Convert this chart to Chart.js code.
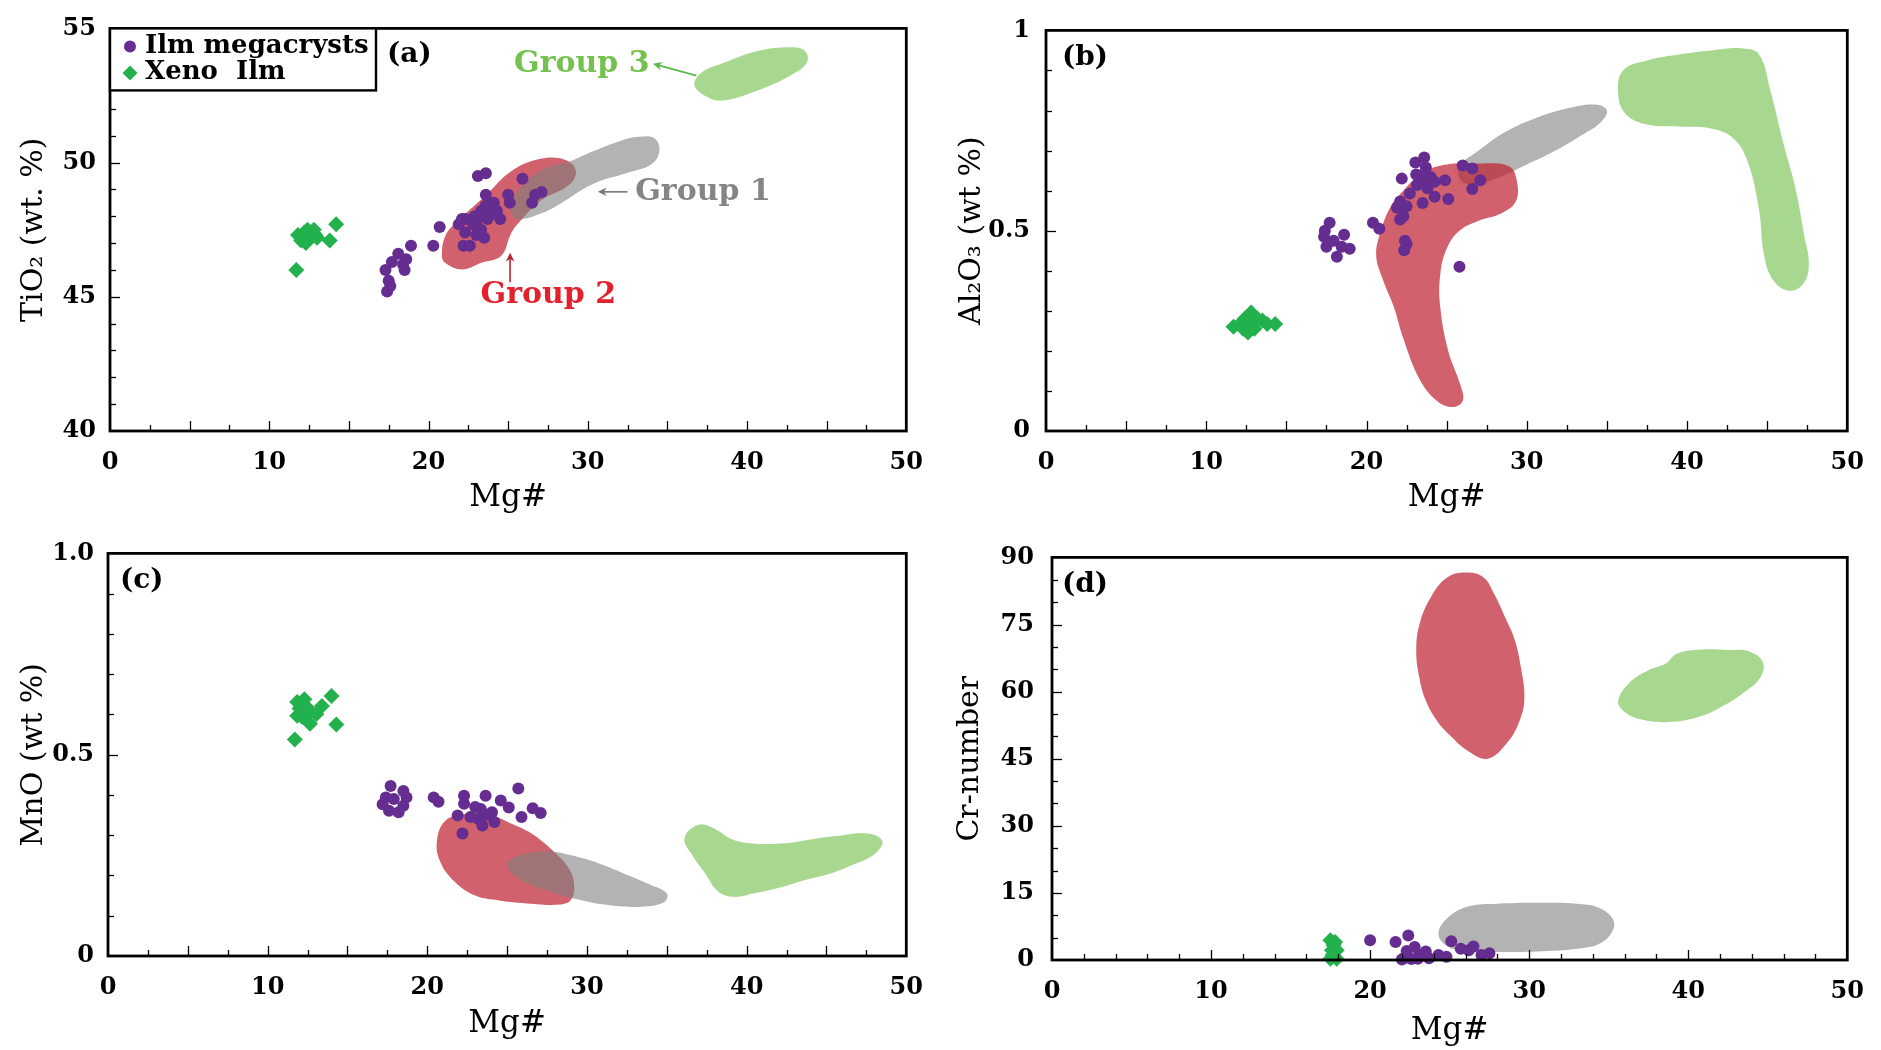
<!DOCTYPE html>
<html><head><meta charset="utf-8">
<script src="https://cdn.jsdelivr.net/npm/chart.js@4.4.1/dist/chart.umd.min.js"></script>
<style>
html,body{margin:0;padding:0;background:#fff;width:1881px;height:1050px;overflow:hidden}
canvas{position:absolute}
</style></head><body>
<canvas id="ca" width="940" height="525" style="left:0;top:0"></canvas>
<canvas id="cb" width="941" height="525" style="left:940px;top:0"></canvas>
<canvas id="cc" width="940" height="525" style="left:0;top:525px"></canvas>
<canvas id="cd" width="941" height="525" style="left:940px;top:525px"></canvas>
<script>
// ---------- tick labels ----------
const MG_TICKS = [0, 10, 20, 30, 40, 50];
const TIO2_TICKS = [40, 45, 50, 55];
const AL_TICKS = [0, 0.5, 1];
const AL_LABELS = ['0', '0.5', '1'];
const MNO_TICKS = [0, 0.5, 1.0];
const MNO_LABELS = ['0', '0.5', '1.0'];
const CR_TICKS = [0, 15, 30, 45, 60, 75, 90];

// ---------- (a) Mg# vs TiO2 ----------
const ilmA = [[17.4,45.2],[17.6,45.4],[17.3,46.0],[17.5,45.6],[17.7,46.3],[18.1,46.6],[18.6,46.4],[18.5,46.0],[18.4,46.2],[18.9,46.9],[20.3,46.9],[20.7,47.6],[22.1,47.9],[21.9,47.7],[22.3,47.4],[22.2,46.9],[22.6,46.9],[22.8,47.7],[23.1,47.9],[23.3,47.5],[23.5,47.2],[23.3,48.2],[23.6,48.4],[23.7,47.9],[24.1,48.5],[24.3,48.2],[24.5,47.9],[23.6,48.8],[23.1,49.5],[23.6,49.6],[25.0,48.8],[25.1,48.5],[25.9,49.4],[26.5,48.5],[26.7,48.8],[27.1,48.9],[24.0,48.1],[22.9,48.0],[22.3,47.9],[23.0,47.3]];
const xenoA = [[11.7,46.0],[11.8,47.3],[12.0,47.1],[12.2,47.4],[12.4,47.5],[12.6,47.2],[12.8,47.5],[12.9,47.3],[12.3,47.0],[13.0,47.2],[13.8,47.1],[14.2,47.7],[12.5,47.3]];
const grp1A = [[25.25,48.55],[26.0,49.2],[27.23,49.76],[28.9,50.05],[30.32,50.42],[32.0,50.8],[33.2,50.96],[34.2,50.9],[34.5,50.42],[34.0,49.94],[32.5,49.62],[30.32,49.2],[28.28,48.47],[27.04,48.1],[25.8,47.89],[25.25,48.03]];
const grp2A = [[20.84,46.52],[21.04,47.25],[21.66,47.74],[22.7,48.3],[23.7,48.84],[25.19,49.68],[27.04,50.14],[28.6,50.1],[29.25,49.7],[28.85,49.18],[27.04,48.58],[25.8,47.85],[25.19,47.37],[24.57,46.53],[23.33,46.27],[22.09,46.02],[21.04,46.27]];
const grp3A = [[36.7,52.87],[37.13,53.35],[38.55,53.72],[40.66,54.16],[42.7,54.3],[43.63,54.16],[43.75,53.72],[42.7,53.24],[40.66,52.69],[38.55,52.32],[37.56,52.43]];

// ---------- (b) Mg# vs Al2O3 ----------
const ilmB = [[17.7,0.52],[17.4,0.50],[17.35,0.485],[17.5,0.46],[18.15,0.435],[18.6,0.49],[18.95,0.455],[18.45,0.46],[17.95,0.475],[20.4,0.52],[20.8,0.505],[23.6,0.683],[23.05,0.67],[23.7,0.658],[23.4,0.638],[24.0,0.634],[24.9,0.626],[22.2,0.63],[22.7,0.593],[22.1,0.573],[21.9,0.557],[22.5,0.561],[22.3,0.536],[22.1,0.528],[23.5,0.569],[24.25,0.585],[25.1,0.579],[26.0,0.663],[26.6,0.655],[27.1,0.626],[26.6,0.604],[22.4,0.475],[22.35,0.451],[22.5,0.467],[25.8,0.41],[23.15,0.614],[23.8,0.606],[24.25,0.622],[23.1,0.64],[23.6,0.63]];
const xenoB = [[12.1,0.267],[12.4,0.28],[12.8,0.296],[13.0,0.255],[13.5,0.276],[14.3,0.267],[11.7,0.26],[12.6,0.246],[13.2,0.28],[13.8,0.267],[12.3,0.255],[12.9,0.27]];
const grp1B = [[25.8,0.66],[27.0,0.70],[28.6,0.745],[30.5,0.78],[32.5,0.805],[34.3,0.815],[35.0,0.80],[34.6,0.77],[33.5,0.74],[31.8,0.70],[30.0,0.665],[28.4,0.635],[26.8,0.615],[25.9,0.625]];
const grp2B = [[20.6,0.44],[20.9,0.50],[21.5,0.56],[22.3,0.60],[23.5,0.645],[25.0,0.665],[27.0,0.668],[28.9,0.66],[29.4,0.62],[29.3,0.572],[28.4,0.543],[27.0,0.525],[25.8,0.50],[25.0,0.455],[24.6,0.39],[24.6,0.31],[25.1,0.20],[25.9,0.11],[26.0,0.075],[25.4,0.06],[24.4,0.075],[23.3,0.13],[22.3,0.23],[21.7,0.31],[21.0,0.38]];
const grp3B = [[35.7,0.84],[36.0,0.90],[37.5,0.925],[39.5,0.94],[41.5,0.95],[43.5,0.955],[44.5,0.94],[45.2,0.85],[46.0,0.72],[46.8,0.60],[47.3,0.49],[47.6,0.42],[47.3,0.37],[46.4,0.35],[45.4,0.375],[44.8,0.44],[44.5,0.55],[43.8,0.67],[42.9,0.73],[41.5,0.755],[39.5,0.76],[37.5,0.765],[36.2,0.79]];

// ---------- (c) Mg# vs MnO ----------
const ilmC = [[17.7,0.422],[17.4,0.394],[17.2,0.377],[17.6,0.361],[18.2,0.357],[18.5,0.373],[18.7,0.394],[18.5,0.41],[17.9,0.39],[20.4,0.394],[20.7,0.383],[22.3,0.398],[22.3,0.378],[21.9,0.349],[22.2,0.304],[22.7,0.345],[23.35,0.365],[23.65,0.398],[23.45,0.324],[24.2,0.333],[24.05,0.357],[24.6,0.386],[25.1,0.369],[25.7,0.416],[25.9,0.345],[26.6,0.367],[27.1,0.355],[23.2,0.34],[23.0,0.37],[23.8,0.35]];
const xenoC = [[11.7,0.538],[14.0,0.646],[14.3,0.575],[11.85,0.631],[12.3,0.638],[12.65,0.609],[12.15,0.594],[12.65,0.577],[13.05,0.601],[13.4,0.621],[11.85,0.597],[12.4,0.62],[12.0,0.615]];
const grp1C = [[25.0,0.232],[26.0,0.252],[27.5,0.26],[29.0,0.25],[30.6,0.232],[32.3,0.205],[33.9,0.178],[35.0,0.155],[34.8,0.133],[33.2,0.122],[31.2,0.127],[29.4,0.141],[27.8,0.158],[26.3,0.18],[25.3,0.205]];
const grp2C = [[20.6,0.285],[21.1,0.335],[22.3,0.352],[23.8,0.352],[25.2,0.33],[26.5,0.305],[27.9,0.26],[28.9,0.215],[29.2,0.175],[29.0,0.14],[28.3,0.128],[26.5,0.13],[24.5,0.138],[23.0,0.15],[21.7,0.185],[20.8,0.235]];
const grp3C = [[36.1,0.292],[36.9,0.325],[37.8,0.32],[39.2,0.288],[40.6,0.279],[42.4,0.28],[44.1,0.29],[45.6,0.298],[47.6,0.304],[48.5,0.285],[48.0,0.253],[46.6,0.226],[45.4,0.207],[43.6,0.188],[42.1,0.17],[40.4,0.155],[39.2,0.147],[38.2,0.161],[37.4,0.205],[36.6,0.25]];

// ---------- (d) Mg# vs Cr-number ----------
const ilmD = [[20.0,4.4],[21.6,4.0],[22.4,5.5],[22.1,0.4],[22.8,2.9],[23.1,1.2],[23.5,1.9],[23.7,0.4],[24.3,1.1],[24.8,0.7],[25.1,4.2],[25.7,2.5],[26.5,3.0],[27.0,1.1],[27.5,1.5],[22.6,0.2],[22.0,0.1],[22.3,2.0],[23.0,0.3],[26.2,2.2]];
const xenoD = [[17.5,4.4],[17.8,4.0],[17.6,2.2],[17.9,2.2],[17.5,0.3],[17.9,0.3],[17.7,3.3],[17.65,1.1]];
const grp1D = [[24.3,6.0],[24.9,9.5],[26.2,12.0],[28.0,12.6],[31.0,12.8],[33.0,12.6],[34.3,11.8],[35.2,9.5],[35.3,7.0],[34.5,3.8],[33.0,2.5],[30.5,1.9],[28.0,1.8],[26.0,2.0],[24.8,3.2]];
const grp2D = [[26.0,86.6],[27.1,85.6],[27.8,81.8],[28.5,76.5],[29.1,71.5],[29.5,65],[29.7,58.5],[29.4,53.5],[28.6,48.5],[27.4,45.0],[26.2,46.6],[25.0,50.3],[24.2,53.5],[23.5,58],[23.1,63],[22.9,69],[23.1,75],[23.8,81.0],[24.8,85.4]];
const grp3D = [[35.6,58.0],[36.3,62.0],[37.5,64.8],[38.6,66.3],[39.3,68.5],[40.8,69.4],[42.5,69.3],[43.8,69.0],[44.7,66.5],[44.5,63.0],[43.5,59.8],[42.3,57.0],[40.8,54.5],[38.8,53.2],[37.0,53.8],[35.9,55.8]];

// ---------- styles ----------
const FONT = 'DejaVu Serif';
const PURPLE = '#662d91';
const GREEN_PT = '#22b14c';
const RED_F = 'rgba(190,30,45,0.7)';
const GRAY_F = 'rgba(128,128,128,0.6)';
const GREEN_F = 'rgba(110,190,70,0.6)';

function xy(arr) { return arr.map(p => ({x: p[0], y: p[1]})); }
function loop(arr) { const n = arr.length; return xy([arr[n - 1], ...arr, arr[0], arr[1]]); }
function blob(label, p, color, order) {
  return {type: 'line', label, data: loop(p), fill: 'shape', backgroundColor: color,
    borderColor: 'rgba(0,0,0,0)', borderWidth: 0, pointRadius: 0, pointHoverRadius: 0,
    tension: 0.4, order};
}
function marks(label, p, style, color, r, order) {
  return {type: 'scatter', label, data: xy(p), pointStyle: style, pointRadius: r,
    pointHoverRadius: r, backgroundColor: color, borderColor: color, borderWidth: 0, order, clip: false};
}

const frameTicks = {
  id: 'frameTicks',
  afterDatasetsDraw(chart, args, o) {
    const {ctx, chartArea: a} = chart;
    const x = chart.scales.x, y = chart.scales.y;
    ctx.save();
    ctx.strokeStyle = '#000';
    ctx.lineWidth = 1.3;
    const isMaj = (v, m) => Math.abs(v / m - Math.round(v / m)) < 1e-6;
    let n = Math.round((x.max - x.min) / o.xMinor);
    for (let i = 1; i < n; i++) {
      const v = x.min + i * o.xMinor, px = Math.round(x.getPixelForValue(v)) + 0.5;
      const L = isMaj(v, o.xMajor) ? 10 : 6;
      ctx.beginPath(); ctx.moveTo(px, a.bottom); ctx.lineTo(px, a.bottom - L); ctx.stroke();
    }
    n = Math.round((y.max - y.min) / o.yMinor);
    for (let i = 1; i < n; i++) {
      const v = y.min + i * o.yMinor, py = Math.round(y.getPixelForValue(v)) + 0.5;
      const L = isMaj(v, o.yMajor) ? 10 : 6;
      ctx.beginPath(); ctx.moveTo(a.left, py); ctx.lineTo(a.left + L, py); ctx.stroke();
    }
    ctx.lineWidth = 2.8;
    ctx.strokeRect(a.left, a.top, a.right - a.left, a.bottom - a.top);
    ctx.restore();
  }
};

function arrow(ctx, x1, y1, x2, y2, color) {
  ctx.save();
  ctx.strokeStyle = color; ctx.fillStyle = color; ctx.lineWidth = 1.6;
  const ang = Math.atan2(y2 - y1, x2 - x1);
  ctx.beginPath(); ctx.moveTo(x1, y1); ctx.lineTo(x2 - 5 * Math.cos(ang), y2 - 5 * Math.sin(ang)); ctx.stroke();
  ctx.beginPath();
  ctx.moveTo(x2, y2);
  ctx.lineTo(x2 - 10 * Math.cos(ang - 0.45), y2 - 10 * Math.sin(ang - 0.45));
  ctx.lineTo(x2 - 6 * Math.cos(ang), y2 - 6 * Math.sin(ang));
  ctx.lineTo(x2 - 10 * Math.cos(ang + 0.45), y2 - 10 * Math.sin(ang + 0.45));
  ctx.closePath(); ctx.fill();
  ctx.restore();
}

const annot = {
  id: 'annot',
  afterDraw(chart, args, o) {
    const {ctx, chartArea: a} = chart;
    const x = chart.scales.x, y = chart.scales.y;
    ctx.save();
    ctx.textAlign = 'left'; ctx.textBaseline = 'middle';
    ctx.fillStyle = '#000';
    ctx.font = 'bold 28px "' + FONT + '"';
    ctx.fillText(o.letter, a.left + o.letterDx, a.top + o.letterDy);
    (o.groups || []).forEach(g => {
      ctx.fillStyle = g.color;
      ctx.font = 'bold 30px "' + FONT + '"';
      ctx.fillText(g.text, x.getPixelForValue(g.x), y.getPixelForValue(g.y));
      arrow(ctx, x.getPixelForValue(g.arrow[0][0]), y.getPixelForValue(g.arrow[0][1]),
        x.getPixelForValue(g.arrow[1][0]), y.getPixelForValue(g.arrow[1][1]), g.acolor);
    });
    if (o.legend) {
      const L = a.left, T = a.top;
      ctx.fillStyle = '#fff';
      ctx.fillRect(L, T, 266, 62);
      ctx.strokeStyle = '#000'; ctx.lineWidth = 2.4;
      ctx.strokeRect(L, T, 266, 62);
      ctx.fillStyle = PURPLE;
      ctx.beginPath(); ctx.arc(L + 20, T + 18, 6, 0, Math.PI * 2); ctx.fill();
      ctx.fillStyle = GREEN_PT;
      ctx.beginPath(); ctx.moveTo(L + 20, T + 37); ctx.lineTo(L + 27.5, T + 44.5); ctx.lineTo(L + 20, T + 52); ctx.lineTo(L + 12.5, T + 44.5); ctx.closePath(); ctx.fill();
      ctx.fillStyle = '#000';
      ctx.font = 'bold 26px "' + FONT + '"';
      ctx.fillText('Ilm megacrysts', L + 35, T + 18);
      ctx.fillText('Xeno  Ilm', L + 35, T + 44);
    }
    ctx.restore();
  }
};

function makeChart(id, p) {
  const tickFont = {family: FONT, weight: 'bold', size: 24};
  return new Chart(document.getElementById(id), {
    type: 'scatter',
    data: {datasets: p.datasets},
    plugins: [frameTicks, annot],
    options: {
      responsive: false, animation: false, events: [],
      layout: {padding: {top: 22, right: p.padRight, left: 0, bottom: 0}},
      plugins: {
        legend: {display: false}, tooltip: {enabled: false},
        frameTicks: p.ticks, annot: p.annot
      },
      scales: {
        x: {
          type: 'linear', min: 0, max: 50,
          afterBuildTicks: s => { s.ticks = MG_TICKS.map(v => ({value: v})); },
          afterFit: s => { s.height = p.xHeight; },
          grid: {display: false, drawTicks: false}, border: {display: false},
          ticks: {font: tickFont, color: '#000', padding: p.xPad, maxRotation: 0, autoSkip: false,
            callback: v => String(v)},
          title: {display: true, text: 'Mg#', color: '#000', font: {family: FONT, size: 31},
            padding: {top: 0, bottom: p.xTitlePad}}
        },
        y: {
          type: 'linear', min: p.yTicks[0], max: p.yTicks[p.yTicks.length - 1],
          afterBuildTicks: s => { s.ticks = p.yTicks.map(v => ({value: v})); },
          afterFit: s => { s.width = p.yWidth; },
          grid: {display: false, drawTicks: false}, border: {display: false},
          ticks: {font: tickFont, color: '#000', padding: p.yPad, autoSkip: false,
            callback: v => p.yLabels[p.yTicks.indexOf(v)]},
          title: {display: true, text: p.yTitle, color: '#000', font: {family: FONT, size: 30},
            padding: {top: p.yTitlePad, bottom: 0}}
        }
      }
    }
  });
}

makeChart('ca', {
  datasets: [
    marks('Ilm megacrysts', ilmA, 'circle', PURPLE, 6, 0),
    marks('Xeno  Ilm', xenoA, 'rectRot', GREEN_PT, 8, 1),
    blob('Group 1', grp1A, GRAY_F, 2),
    blob('Group 2', grp2A, RED_F, 3),
    blob('Group 3', grp3A, GREEN_F, 4)
  ],
  padRight: 22, xHeight: 94, yWidth: 110, xPad: 17, yPad: 14, xTitlePad: 8, yTitlePad: 16,
  yTicks: TIO2_TICKS, yLabels: TIO2_TICKS.map(String), yTitle: 'TiO\u2082 (wt. %)',
  ticks: {xMinor: 2.5, xMajor: 5, yMinor: 1, yMajor: 5},
  annot: {letter: '(a)', letterDx: 277, letterDy: 26, legend: true, groups: [
    {text: 'Group 3', color: '#74c14f', x: 25.37, y: 53.68, arrow: [[36.82, 53.24], [34.1, 53.68]], acolor: '#5cb84a'},
    {text: 'Group 1', color: '#858585', x: 32.98, y: 48.91, arrow: [[32.49, 48.91], [30.63, 48.91]], acolor: '#777777'},
    {text: 'Group 2', color: '#e3202c', x: 23.27, y: 45.06, arrow: [[25.12, 45.54], [25.12, 46.64]], acolor: '#b8242e'}
  ]}
});

makeChart('cb', {
  datasets: [
    marks('Ilm megacrysts', ilmB, 'circle', PURPLE, 6, 0),
    marks('Xeno  Ilm', xenoB, 'rectRot', GREEN_PT, 8, 1),
    blob('Group 2', grp2B, RED_F, 2),
    blob('Group 1', grp1B, GRAY_F, 3),
    blob('Group 3', grp3B, GREEN_F, 4)
  ],
  padRight: 25, xHeight: 94, yWidth: 106, xPad: 17, yPad: 16, xTitlePad: 8, yTitlePad: 14,
  yTicks: AL_TICKS, yLabels: AL_LABELS, yTitle: 'Al\u2082O\u2083 (wt %)',
  ticks: {xMinor: 2.5, xMajor: 5, yMinor: 0.1, yMajor: 0.5},
  annot: {letter: '(b)', letterDx: 16, letterDy: 27}
});

makeChart('cc', {
  datasets: [
    marks('Ilm megacrysts', ilmC, 'circle', PURPLE, 6, 0),
    marks('Xeno  Ilm', xenoC, 'rectRot', GREEN_PT, 8, 1),
    blob('Group 1', grp1C, GRAY_F, 2),
    blob('Group 2', grp2C, RED_F, 3),
    blob('Group 3', grp3C, GREEN_F, 4)
  ],
  padRight: 21, xHeight: 94, yWidth: 108, xPad: 17, yPad: 14, xTitlePad: 7, yTitlePad: 16,
  yTicks: MNO_TICKS, yLabels: MNO_LABELS, yTitle: 'MnO (wt %)',
  ticks: {xMinor: 2.5, xMajor: 5, yMinor: 0.1, yMajor: 0.5},
  annot: {letter: '(c)', letterDx: 12, letterDy: 27}
});

makeChart('cd', {
  datasets: [
    marks('Ilm megacrysts', ilmD, 'circle', PURPLE, 6, 0),
    marks('Xeno  Ilm', xenoD, 'rectRot', GREEN_PT, 8, 1),
    blob('Group 1', grp1D, GRAY_F, 2),
    blob('Group 2', grp2D, RED_F, 3),
    blob('Group 3', grp3D, GREEN_F, 4)
  ],
  padRight: 23, xHeight: 90, yWidth: 112, xPad: 17, yPad: 18, xTitlePad: 0, yTitlePad: 12,
  yTicks: CR_TICKS, yLabels: CR_TICKS.map(String), yTitle: 'Cr-number',
  ticks: {xMinor: 2, xMajor: 10, yMinor: 5, yMajor: 15},
  annot: {letter: '(d)', letterDx: 10, letterDy: 27}
});
</script>
</body></html>
